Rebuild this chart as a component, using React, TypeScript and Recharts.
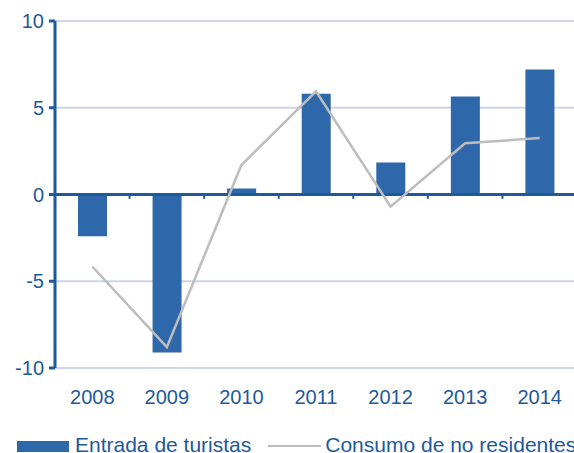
import {
  ComposedChart,
  Bar,
  Line,
  XAxis,
  YAxis,
  CartesianGrid,
  ReferenceLine,
} from 'recharts'

/* ─── Data ─── */

const years = ['2008', '2009', '2010', '2011', '2012', '2013', '2014']
const entradaTuristas = [-2.4, -9.1, 0.35, 5.8, 1.85, 5.65, 7.2]
const consumoNoResidentes = [-4.15, -8.8, 1.7, 5.95, -0.7, 2.95, 3.25]
const yTicks = [-10, -5, 0, 5, 10]

const data = years.map((year, i) => ({
  year,
  idx: i + 0.5,
  entrada: entradaTuristas[i],
  consumo: consumoNoResidentes[i],
}))

/* ─── Style ─── */

const BLUE_TEXT = '#1d5a9c'
const BAR_BLUE = '#2e67aa'
const GRID = '#cdd4ea'
const LINE_GRAY = '#bdbdbd'
const FONT = 'Liberation Sans, Arial, sans-serif'

function Legend() {
  return (
    <div
      style={{
        position: 'absolute',
        left: 17,
        top: 433,
        display: 'flex',
        alignItems: 'flex-start',
        fontFamily: FONT,
        fontSize: 21,
        lineHeight: '24px',
        color: BLUE_TEXT,
        whiteSpace: 'nowrap',
      }}
    >
      <span style={{ display: 'inline-block', width: 52, height: 11, marginTop: 8, background: BAR_BLUE, marginRight: 6 }} />
      <span>Entrada de turistas</span>
      <span style={{ display: 'inline-block', width: 53, height: 2, marginTop: 12, background: LINE_GRAY, marginLeft: 17, marginRight: 4 }} />
      <span>Consumo de no residentes</span>
    </div>
  )
}

export default function App() {
  return (
    <div style={{ position: 'relative', width: 574, height: 453, overflow: 'hidden', background: '#fff' }}>
      <style>{'html, body { margin: 0; padding: 0; overflow: hidden; }'}</style>
      <ComposedChart
        width={600}
        height={420}
        data={data}
        margin={{ top: 21, right: 23, left: 10, bottom: 0 }}
      >
        <CartesianGrid stroke={GRID} strokeWidth={2} vertical={false} />
        <XAxis
          dataKey="year"
          axisLine={false}
          tickLine={false}
          height={52}
          tickSize={6}
          tickMargin={16}
          tick={{ fill: BLUE_TEXT, fontSize: 20, fontFamily: FONT }}
        />
        <XAxis xAxisId="num" type="number" dataKey="idx" domain={[0, 7]} hide />
        <YAxis
          domain={[-10, 10]}
          ticks={yTicks}
          interval={0}
          width={45}
          axisLine={{ stroke: BLUE_TEXT, strokeWidth: 3 }}
          tickLine={{ stroke: BLUE_TEXT, strokeWidth: 3 }}
          tickSize={6}
          tickMargin={5}
          tick={{ fill: BLUE_TEXT, fontSize: 20, fontFamily: FONT }}
        />
        {[1, 2, 3, 4, 5, 6].map((b) => (
          <ReferenceLine
            key={b}
            xAxisId="num"
            segment={[
              { x: b, y: 0 },
              { x: b, y: -0.25 },
            ]}
            stroke={BLUE_TEXT}
            strokeWidth={2}
          />
        ))}
        <Bar dataKey="entrada" fill={BAR_BLUE} barSize={29} isAnimationActive={false} />
        <ReferenceLine y={0} stroke={BLUE_TEXT} strokeWidth={3} />
        <Line
          type="linear"
          dataKey="consumo"
          stroke={LINE_GRAY}
          strokeWidth={2.5}
          dot={false}
          activeDot={false}
          isAnimationActive={false}
        />
      </ComposedChart>
      <Legend />
    </div>
  )
}
